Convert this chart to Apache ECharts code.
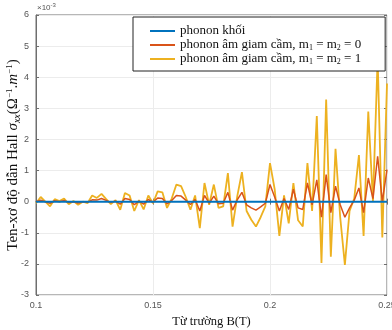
<!DOCTYPE html>
<html>
<head>
<meta charset="utf-8">
<title>Hall conductivity</title>
<style>
  html, body, #chart { width: 392px; height: 330px; margin: 0; padding: 0; background: #fff; }
</style>
</head>
<body>
<div id="chart"></div>
<script src="https://cdn.jsdelivr.net/npm/echarts@6/dist/echarts.min.js"></script>
<script>
// magnetic field B (T)
const field = [
  0.100, 0.102, 0.104, 0.106, 0.108, 0.110, 0.112, 0.114, 0.116, 0.118,
  0.120, 0.122, 0.124, 0.126, 0.128, 0.130, 0.132, 0.134, 0.136, 0.138,
  0.140, 0.142, 0.144, 0.146, 0.148, 0.150, 0.152, 0.154, 0.156, 0.158,
  0.160, 0.162, 0.164, 0.166, 0.168, 0.170, 0.172, 0.174, 0.176, 0.178,
  0.180, 0.182, 0.184, 0.186, 0.188, 0.190, 0.192, 0.194, 0.196, 0.198,
  0.200, 0.202, 0.204, 0.206, 0.208, 0.210, 0.212, 0.214, 0.216, 0.218,
  0.220, 0.222, 0.224, 0.226, 0.228, 0.230, 0.232, 0.234, 0.236, 0.238,
  0.240, 0.242, 0.244, 0.246, 0.248, 0.250
];
// sigma_xx in units of 1e-3
const bulk = [
  0, 0, 0, 0, 0, 0, 0, 0, 0, 0,
  0, 0, 0, 0, 0, 0, 0, 0, 0, 0,
  0, 0, 0, 0, 0, 0, 0, 0, 0, 0,
  0, 0, 0, 0, 0, 0, 0, 0, 0, 0,
  0, 0, 0, 0, 0, 0, 0, 0, 0, 0,
  0, 0, 0, 0, 0, 0, 0, 0, 0, 0,
  0, 0, 0, 0, 0, 0, 0, 0, 0, 0,
  0, 0, 0, 0, 0, 0
];
const confined0 = [
  0.00, 0.05, 0.00, -0.05, 0.03, 0.00, 0.04, -0.03, 0.00, -0.04,
  0.00, -0.02, 0.06, 0.05, 0.10, 0.04, -0.03, 0.02, -0.08, 0.10,
  0.07, -0.10, 0.02, -0.08, 0.07, -0.02, 0.12, 0.10, -0.07, 0.04,
  0.20, 0.18, 0.05, -0.09, 0.07, -0.30, 0.20, -0.05, 0.18, -0.07,
  -0.05, 0.30, -0.27, 0.06, 0.30, -0.10, -0.20, -0.27, -0.17, -0.05,
  0.55, 0.15, -0.30, 0.10, -0.25, 0.40, -0.20, -0.25, 0.60, -0.10,
  0.70, -0.50, 0.87, -0.35, 0.50, -0.10, -0.50, -0.20, 0.05, 0.44,
  -0.35, 0.76, 0.10, 1.46, 0.00, 1.03
];
const confined1 = [
  -0.05, 0.15, 0.00, -0.15, 0.08, 0.02, 0.10, -0.08, 0.02, -0.10,
  0.00, -0.05, 0.20, 0.12, 0.25, 0.08, -0.08, 0.05, -0.26, 0.28,
  0.20, -0.30, 0.05, -0.25, 0.20, -0.05, 0.33, 0.30, -0.20, 0.10,
  0.55, 0.50, 0.15, -0.26, 0.20, -0.85, 0.60, -0.10, 0.55, -0.20,
  -0.15, 0.92, -0.80, 0.17, 0.95, -0.30, -0.58, -0.80, -0.50, -0.15,
  1.24, 0.40, -1.10, 0.20, -0.70, 0.60, -0.60, -0.80, 1.24, -0.30,
  2.75, -1.97, 3.28, -1.77, 1.70, -0.50, -2.03, -0.30, 0.10, 1.50,
  -1.10, 2.90, 0.00, 4.60, -1.15, 3.80
];
const names = [
  'phonon khối',
  'phonon âm giam cầm, m1 = m2 = 0',
  'phonon âm giam cầm, m1 = m2 = 1'
];

const pairs = ys => field.map((b, i) => [b, ys[i]]);

const chart = echarts.init(document.getElementById('chart'));
const axisGray = '#6e6e6e';
const tickFont = { fontFamily: 'Liberation Sans', fontSize: 9, color: '#555' };

chart.setOption({
  animation: false,
  grid: {
    left: 36, right: 5, top: 15, bottom: 35, containLabel: false, outerBoundsMode: 'none',
    show: true, borderColor: axisGray, borderWidth: 1
  },
  legend: {
    data: names,
    orient: 'vertical',
    left: 133,
    top: 17,
    padding: [7, 24, 5, 17],
    itemGap: 0,
    itemWidth: 25,
    itemHeight: 2,
    icon: 'rect',
    backgroundColor: '#fff',
    borderColor: '#222',
    borderWidth: 1,
    formatter: n => n.replace(/m([12])/g, 'm{s|$1}'),
    textStyle: {
      fontFamily: 'Liberation Serif', fontSize: 13, color: '#111', lineHeight: 14,
      rich: { s: { fontFamily: 'Liberation Serif', fontSize: 8, color: '#111', padding: [5, 0, 0, 0] } }
    }
  },
  xAxis: [{
    type: 'value', min: 0.1, max: 0.25, interval: 0.05,
    name: 'Từ trường B(T)', nameLocation: 'middle', nameGap: 20,
    nameTextStyle: { fontFamily: 'Liberation Serif', fontSize: 12.5, color: '#111' },
    axisLine: { lineStyle: { color: axisGray } },
    axisTick: { inside: true, length: 3, lineStyle: { color: axisGray } },
    axisLabel: Object.assign({ margin: 6, formatter: v => String(+v.toFixed(2)) }, tickFont),
    splitLine: { show: true, lineStyle: { color: '#ececec' } }
  }, {
    type: 'value', position: 'top', min: 0.1, max: 0.25, interval: 0.05,
    axisLine: { show: false }, axisLabel: { show: false }, splitLine: { show: false },
    axisTick: { inside: true, length: 3, lineStyle: { color: axisGray } }
  }],
  yAxis: [{
    type: 'value', min: -3, max: 6, interval: 1,
    name: 'Ten-xơ độ dẫn Hall {i|σ}{sb|xx}{n|(Ω}{sp|−1}{n|.}{i|m}{sp|−1}{n|)}',
    nameLocation: 'middle', nameGap: 14, nameRotate: 90, nameMoveOverlap: false,
    nameTextStyle: {
      fontFamily: 'Liberation Serif', fontSize: 15, color: '#111',
      rich: {
        i: { fontFamily: 'Liberation Serif', fontStyle: 'italic', fontSize: 15, color: '#111' },
        n: { fontFamily: 'Liberation Serif', fontSize: 15, color: '#111' },
        sb: { fontFamily: 'Liberation Serif', fontStyle: 'italic', fontSize: 10, color: '#111', padding: [7, 0, 0, 0] },
        sp: { fontFamily: 'Liberation Serif', fontSize: 9, color: '#111', padding: [0, 0, 8, 0] }
      }
    },
    axisLine: { show: true, lineStyle: { color: axisGray } },
    axisTick: { show: true, inside: true, length: 3, lineStyle: { color: axisGray } },
    axisLabel: Object.assign({ margin: 7 }, tickFont),
    splitLine: { show: true, lineStyle: { color: '#ececec' } }
  }, {
    type: 'value', position: 'right', min: -3, max: 6, interval: 1,
    axisLine: { show: false }, axisLabel: { show: false }, splitLine: { show: false },
    axisTick: { show: true, inside: true, length: 3, lineStyle: { color: axisGray } }
  }],
  graphic: [{
    type: 'text', left: 37, top: 2,
    style: {
      text: '×10{sp|-3}', fontFamily: 'Liberation Sans', fontSize: 8, fill: '#555',
      rich: { sp: { fontFamily: 'Liberation Sans', fontSize: 6, fill: '#555', padding: [0, 0, 5, 0] } }
    }
  }],
  series: [{
    name: names[1], type: 'line', data: pairs(confined0), showSymbol: false, z: 3,
    lineStyle: { color: '#D95319', width: 1.5 }, itemStyle: { color: '#D95319' }
  }, {
    name: names[2], type: 'line', data: pairs(confined1), showSymbol: false, z: 2,
    lineStyle: { color: '#EDB120', width: 1.8 }, itemStyle: { color: '#EDB120' }
  }, {
    name: names[0], type: 'line', data: pairs(bulk), showSymbol: false, z: 4,
    lineStyle: { color: '#0072BD', width: 2 }, itemStyle: { color: '#0072BD' }
  }]
});
</script>
</body>
</html>
